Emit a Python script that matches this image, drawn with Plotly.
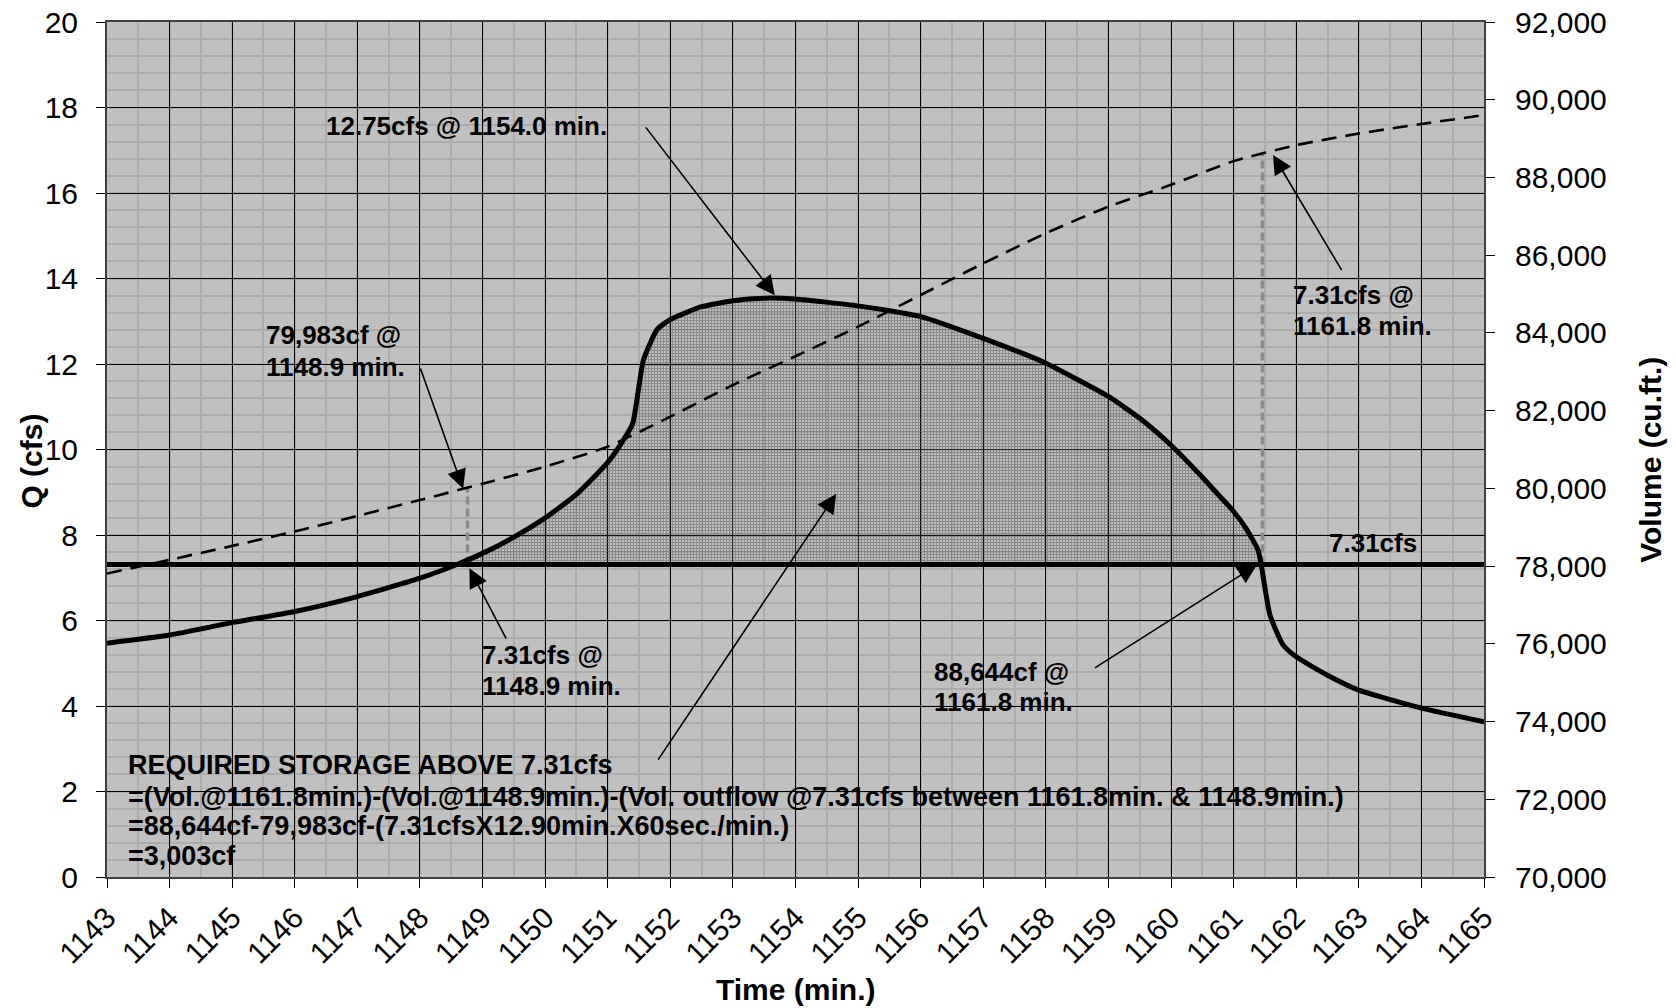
import numpy as np
import plotly.graph_objects as go

# ---------------- data ----------------
q_time = [1143, 1144, 1145, 1146, 1147, 1148, 1148.59, 1149, 1149.5, 1150, 1150.5,
          1151, 1151.25, 1151.4, 1151.57, 1151.79, 1152, 1152.5, 1153, 1153.5, 1154,
          1155, 1156, 1157, 1158, 1159, 1159.5, 1160, 1160.5, 1160.75, 1161, 1161.2,
          1161.39, 1161.44, 1161.58, 1161.79, 1162, 1162.5, 1163, 1164, 1165]
q_cfs = [5.47, 5.66, 5.95, 6.21, 6.56, 6.99, 7.31, 7.57, 7.95, 8.40, 8.95,
         9.70, 10.22, 10.61, 12.09, 12.81, 13.04, 13.34, 13.48, 13.54, 13.52,
         13.36, 13.11, 12.6, 12.02, 11.24, 10.73, 10.1, 9.35, 8.95, 8.55, 8.15,
         7.65, 7.31, 6.13, 5.43, 5.15, 4.72, 4.37, 3.95, 3.63]

v_time = list(range(1143, 1166))
v_cuft = [77810, 78160, 78520, 78890, 79290, 79700, 80120, 80560, 81075, 81845,
          82660, 83400, 84160, 84975, 85790, 86565, 87250, 87810, 88420, 88830,
          89130, 89375, 89605]

out_time = [1143, 1165]
out_cfs = [7.31, 7.31]

event_time = [1148.76, 1161.46]
event_vol = [79983, 88644]

x_ticks = list(range(1143, 1166))
q_ticks = list(range(0, 21, 2))
v_ticks = list(range(70000, 92001, 2000))

Q_RANGE = [0, 20]
V_RANGE = [70000, 92000]

FONT = "Liberation Sans, Arial, sans-serif"

def vol_to_q(v):
    return Q_RANGE[0] + (v - V_RANGE[0]) * (Q_RANGE[1] - Q_RANGE[0]) / (V_RANGE[1] - V_RANGE[0])

fig = go.Figure()

# shaded storage area between inflow and 7.31 cfs
t0, t1 = event_time
inner = [t for t in q_time if t0 < t < t1]
fx = [t0] + inner + [t1]
fy = list(np.maximum(np.interp(fx, q_time, q_cfs), out_cfs[0]))
poly_x = fx + [t1, t0]
poly_y = fy + [out_cfs[0], out_cfs[0]]
fig.add_trace(go.Scatter(
    x=poly_x, y=poly_y, mode="lines", fill="toself",
    fillcolor="rgba(0,0,0,0)",
    line=dict(width=0, shape="spline", smoothing=0.5),
    fillpattern=dict(shape="+", size=3, solidity=0.6, fgcolor="#555555"),
    hoverinfo="skip", showlegend=False))

# gray dashed verticals
for t, v in zip(event_time, event_vol):
    fig.add_trace(go.Scatter(
        x=[t, t], y=[out_cfs[0], vol_to_q(v)], mode="lines",
        line=dict(color="#8a8a8a", width=3.5, dash="8px,4px"),
        hoverinfo="skip", showlegend=False))

# outflow line
fig.add_trace(go.Scatter(x=out_time, y=out_cfs, mode="lines",
                         line=dict(color="black", width=5), showlegend=False))
# inflow hydrograph
fig.add_trace(go.Scatter(x=q_time, y=q_cfs, mode="lines",
                         line=dict(color="black", width=5, shape="spline", smoothing=0.5),
                         showlegend=False))
# cumulative volume
fig.add_trace(go.Scatter(x=v_time, y=v_cuft, mode="lines", yaxis="y2",
                         line=dict(color="black", width=2.6, dash="15px,9px", shape="spline", smoothing=0.6),
                         showlegend=False))

ann_font = dict(family=FONT, size=26, color="black", weight="bold")
blk_font = dict(family=FONT, size=27, color="black", weight="bold")
texts = [
    ("12.75cfs @ 1154.0 min.", 1146.47, 17.57, ann_font),
    ("79,983cf @", 1145.51, 12.69, ann_font),
    ("1148.9 min.", 1145.51, 11.94, ann_font),
    ("7.31cfs @", 1148.96, 5.19, ann_font),
    ("1148.9 min.", 1148.96, 4.46, ann_font),
    ("88,644cf @", 1156.18, 4.79, ann_font),
    ("1161.8 min.", 1156.18, 4.09, ann_font),
    ("7.31cfs @", 1161.92, 13.61, ann_font),
    ("1161.8 min.", 1161.92, 12.89, ann_font),
    ("7.31cfs", 1162.49, 7.81, ann_font),
    ("REQUIRED STORAGE ABOVE 7.31cfs", 1143.30, 2.62, blk_font),
    ("=(Vol.@1161.8min.)-(Vol.@1148.9min.)-(Vol. outflow @7.31cfs between 1161.8min. & 1148.9min.)", 1143.30, 1.88, blk_font),
    ("=88,644cf-79,983cf-(7.31cfsX12.90min.X60sec./min.)", 1143.30, 1.20, blk_font),
    ("=3,003cf", 1143.30, 0.49, blk_font),
]
annotations = []
for txt, x, y, f in texts:
    annotations.append(dict(text=txt, x=x, y=y, xref="x", yref="y", xanchor="left",
                            yanchor="middle", showarrow=False, font=f))

arrows = [
    (1153.67, 13.61, 1151.59, 17.57),
    (1148.69, 9.08, 1148.00, 11.93),
    (1148.79, 7.22, 1149.39, 5.54),
    (1161.37, 7.30, 1158.76, 4.87),
    (1161.63, 16.89, 1162.74, 14.16),
    (1154.65, 8.96, 1151.79, 2.71),
]
for x, y, ax, ay in arrows:
    annotations.append(dict(text="", x=x, y=y, ax=ax, ay=ay, xref="x", yref="y",
                            axref="x", ayref="y", showarrow=True, arrowhead=2,
                            arrowsize=2.4, arrowwidth=1.6, arrowcolor="black",
                            standoff=0, startstandoff=0))

tick_font = dict(family=FONT, size=30, color="black")
title_font = dict(family=FONT, size=30, color="black", weight="bold")

# axis titles
annotations += [
    dict(text="Time (min.)", x=0.5, y=-0.131, xref="paper", yref="paper",
         xanchor="center", yanchor="middle", showarrow=False, font=title_font),
    dict(text="Q (cfs)", x=-0.0545, y=0.487, xref="paper", yref="paper", textangle=-90,
         xanchor="center", yanchor="middle", showarrow=False, font=title_font),
    dict(text="Volume (cu.ft.)", x=1.1213, y=0.488, xref="paper", yref="paper", textangle=-90,
         xanchor="center", yanchor="middle", showarrow=False, font=title_font),
]

fig.update_layout(
    width=1676, height=1008,
    margin=dict(l=107, r=192, t=22, b=131, autoexpand=False),
    paper_bgcolor="white", plot_bgcolor="#c0c0c0",
    font=dict(family=FONT),
    annotations=annotations,
    xaxis=dict(range=[1143, 1165], tickvals=x_ticks, ticktext=[str(t) for t in x_ticks],
               tickangle=-45, tickfont=tick_font, ticks="outside", ticklen=9,
               tickcolor="black", showline=True, linecolor="#404040", linewidth=2,
               mirror=True, showgrid=True, gridcolor="black", gridwidth=1, zeroline=False,
               automargin=False,
               minor=dict(dtick=0.5, showgrid=True, gridcolor="#acacac", gridwidth=2)),
    yaxis=dict(range=Q_RANGE, tickvals=q_ticks, tickfont=tick_font, ticks="outside",
               ticklen=9, tickcolor="black", showline=True, linecolor="#404040",
               linewidth=2, showgrid=True, gridcolor="black", gridwidth=1, zeroline=False,
               ticklabelstandoff=12, automargin=False,
               minor=dict(dtick=0.4, showgrid=True, gridcolor="#acacac", gridwidth=2)),
    yaxis2=dict(range=V_RANGE, tickvals=v_ticks, tickformat=",", tickfont=tick_font,
                overlaying="y", side="right", ticks="outside", ticklen=9, tickcolor="black",
                showline=True, linecolor="#404040", linewidth=2, showgrid=False,
                zeroline=False, ticklabelstandoff=14, automargin=False),
)

fig.write_html("out.html")
